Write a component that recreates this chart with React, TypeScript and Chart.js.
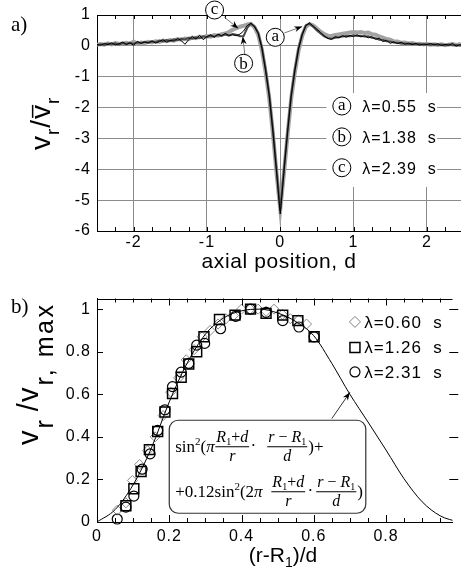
import React, { useEffect, useRef } from 'react';
import { Chart, registerables } from 'chart.js';

Chart.register(...registerables);

const SANS = "'Liberation Sans', Arial, Helvetica, sans-serif";
const SERIF = "'Liberation Serif', 'Times New Roman', Times, serif";

// ---------------- panel a) ----------------
const X_A = [
  -2.5, -2.45, -2.4, -2.35, -2.3, -2.25, -2.2, -2.15, -2.1, -2.05,
  -2, -1.95, -1.9, -1.85, -1.8, -1.75, -1.7, -1.65, -1.6, -1.55,
  -1.5, -1.45, -1.4, -1.35, -1.3, -1.25, -1.2, -1.15, -1.1, -1.05,
  -1, -0.95, -0.9, -0.85, -0.8, -0.75, -0.7, -0.65, -0.6, -0.55,
  -0.5, -0.45, -0.4, -0.35, -0.3, -0.25, -0.2, -0.15, -0.1, -0.05,
  0, 0.05, 0.1, 0.15, 0.2, 0.25, 0.3, 0.35, 0.4, 0.45,
  0.5, 0.55, 0.6, 0.65, 0.7, 0.75, 0.8, 0.85, 0.9, 0.95,
  1, 1.05, 1.1, 1.15, 1.2, 1.25, 1.3, 1.35, 1.4, 1.45,
  1.5, 1.55, 1.6, 1.65, 1.7, 1.75, 1.8, 1.85, 1.9, 1.95,
  2, 2.05, 2.1, 2.15, 2.2, 2.25, 2.3, 2.35, 2.4, 2.45,
  2.5,
];
// lambda = 0.55 s (thin black)
const Y_A_055 = [
  0.05, 0.02, 0.08, 0.04, 0.10, 0.03, 0.07, 0.12, 0.05, 0.09,
  0.02, 0.15, 0.08, 0.12, 0.10, 0.16, 0.09, 0.14, 0.20, 0.12,
  0.18, 0.15, 0.24, 0.17, 0.05, 0.20, 0.30, 0.22, 0.34, 0.20,
  0.30, 0.36, 0.28, 0.38, 0.33, 0.40, 0.34, 0.36, 0.33, 0.38,
  0.48, 0.66, 0.73, 0.62, 0.40, -0.08, -0.80, -1.62, -2.78, -4.10,
  -5.45, -4.10, -2.80, -1.62, -0.80, -0.10, 0.36, 0.66, 0.74, 0.64,
  0.54, 0.44, 0.32, 0.24, 0.21, 0.30, 0.26, 0.33, 0.28, 0.34,
  0.30, 0.36, 0.29, 0.33, 0.26, 0.30, 0.21, 0.25, 0.14, 0.18,
  0.08, 0.13, 0.07, 0.12, 0.05, 0.09, 0.04, 0.08, 0.02, 0.06,
  0.04, 0.08, 0.03, 0.07, 0.01, 0.05, 0.02, 0.08, -0.01, 0.04,
  -0.02,
];
// lambda = 1.38 s (dark grey)
const Y_A_138 = [
  0.02, 0.05, 0.03, 0.07, 0.05, 0.08, 0.04, 0.09, 0.06, 0.10,
  0.07, 0.11, 0.09, 0.13, 0.10, 0.14, 0.12, 0.17, 0.14, 0.19,
  0.16, 0.21, 0.18, 0.23, 0.21, 0.26, 0.23, 0.28, 0.25, 0.31,
  0.28, 0.33, 0.30, 0.35, 0.32, 0.37, 0.33, 0.38, 0.36, 0.31,
  0.32, 0.58, 0.72, 0.63, 0.42, -0.05, -0.75, -1.58, -2.72, -4.02,
  -5.35, -4.02, -2.75, -1.58, -0.75, -0.07, 0.38, 0.67, 0.72, 0.62,
  0.50, 0.40, 0.31, 0.25, 0.23, 0.26, 0.28, 0.30, 0.32, 0.31,
  0.34, 0.32, 0.33, 0.30, 0.31, 0.26, 0.25, 0.20, 0.19, 0.15,
  0.14, 0.11, 0.10, 0.08, 0.08, 0.06, 0.07, 0.05, 0.06, 0.04,
  0.05, 0.03, 0.05, 0.03, 0.04, 0.02, 0.04, 0.02, 0.03, 0.01,
  0.02,
];
// lambda = 2.39 s (thick light grey)
const Y_A_239 = [
  0.03, 0.06, 0.04, 0.08, 0.05, 0.09, 0.06, 0.08, 0.10, 0.07,
  0.14, 0.06, 0.11, 0.09, 0.13, 0.11, 0.15, 0.13, 0.17, 0.15,
  0.19, 0.17, 0.22, 0.20, 0.24, 0.22, 0.27, 0.25, 0.30, 0.28,
  0.32, 0.30, 0.35, 0.33, 0.38, 0.40, 0.45, 0.52, 0.57, 0.62,
  0.65, 0.69, 0.71, 0.60, 0.36, -0.14, -0.85, -1.70, -2.85, -4.15,
  -5.30, -4.15, -2.88, -1.70, -0.85, -0.15, 0.33, 0.62, 0.71, 0.66,
  0.56, 0.46, 0.38, 0.33, 0.32, 0.35, 0.37, 0.39, 0.41, 0.43,
  0.45, 0.43, 0.45, 0.42, 0.43, 0.38, 0.36, 0.31, 0.27, 0.22,
  0.20, 0.15, 0.14, 0.10, 0.11, 0.08, 0.09, 0.06, 0.07, 0.05,
  0.06, 0.04, 0.05, 0.03, 0.05, 0.02, 0.04, 0.06, 0.03, 0.05,
  0.02,
];
const X_TICKS_A = [-2, -1, 0, 1, 2];
const Y_TICKS_A = [-6, -5, -4, -3, -2, -1, 0, 1];
const LEGEND_A_TAGS = ['a', 'b', 'c'];
const LEGEND_A_TEXT = ['λ=0.55  s', 'λ=1.38  s', 'λ=2.39  s'];
const LEGEND_A_Y = [-1.95, -2.95, -3.95];

// ---------------- panel b) ----------------
const X_CURVE = [0, 0.05, 0.1, 0.15, 0.2, 0.25, 0.3, 0.35, 0.4, 0.45, 0.5, 0.55, 0.6, 0.65, 0.7, 0.75, 0.8, 0.85, 0.9, 0.95, 1];
const Y_CURVE = [0, 0.058, 0.175, 0.345, 0.564, 0.748, 0.882, 0.958, 0.992, 1.0, 0.982, 0.942, 0.875, 0.745, 0.60, 0.47, 0.338, 0.203, 0.095, 0.029, 0];

const X_DIAMOND = [0.056, 0.08, 0.098, 0.118, 0.14, 0.161, 0.183, 0.204, 0.226, 0.247, 0.269, 0.291, 0.313, 0.335, 0.357, 0.378, 0.40, 0.424, 0.446, 0.468, 0.49, 0.513, 0.535, 0.558, 0.58];
const Y_DIAMOND = [0.055, 0.09, 0.195, 0.27, 0.335, 0.40, 0.50, 0.61, 0.677, 0.762, 0.81, 0.87, 0.90, 0.93, 0.955, 0.97, 1.0, 1.0, 1.0, 0.99, 1.0, 0.975, 0.955, 0.95, 0.93];

const X_SQUARE = [0.080, 0.102, 0.122, 0.145, 0.168, 0.188, 0.209, 0.233, 0.254, 0.276, 0.296, 0.339, 0.382, 0.425, 0.468, 0.514, 0.556, 0.601];
const Y_SQUARE = [0.076, 0.156, 0.237, 0.34, 0.425, 0.517, 0.604, 0.68, 0.742, 0.80, 0.87, 0.951, 0.972, 1.0, 0.98, 0.972, 0.946, 0.87];

const X_CIRCLE = [0.056, 0.080, 0.102, 0.125, 0.147, 0.168, 0.188, 0.209, 0.233, 0.254, 0.276, 0.298, 0.342, 0.384, 0.425, 0.468, 0.514, 0.559, 0.601];
const Y_CIRCLE = [0.014, 0.07, 0.122, 0.248, 0.32, 0.43, 0.527, 0.636, 0.704, 0.745, 0.831, 0.839, 0.908, 0.966, 1.0, 0.985, 0.946, 0.916, 0.87];

const X_TICKS_B = [0, 0.2, 0.4, 0.6, 0.8];
const Y_TICKS_B = [0, 0.2, 0.4, 0.6, 0.8, 1];
const LEGEND_B_TEXT = ['λ=0.60  s', 'λ=1.26  s', 'λ=2.31  s'];
const LEGEND_B_Y = [0.94, 0.82, 0.705];

// ---------------- drawing helpers ----------------
type Seg = { t: string; it?: boolean; size?: number; dy?: number };

function drawSeq(ctx: CanvasRenderingContext2D, x: number, y: number, segs: Seg[], base: number) {
  for (const s of segs) {
    ctx.font = `${s.it ? 'italic ' : ''}${s.size || base}px ${SERIF}`;
    ctx.fillText(s.t, x, y + (s.dy || 0));
    x += ctx.measureText(s.t).width;
  }
  return x;
}
function seqW(ctx: CanvasRenderingContext2D, segs: Seg[], base: number) {
  let w = 0;
  for (const s of segs) {
    ctx.font = `${s.it ? 'italic ' : ''}${s.size || base}px ${SERIF}`;
    w += ctx.measureText(s.t).width;
  }
  return w;
}
function drawFrac(ctx: CanvasRenderingContext2D, cx: number, barY: number, num: Seg[], den: Seg[], base: number) {
  const wn = seqW(ctx, num, base);
  const wd = seqW(ctx, den, base);
  const w = Math.max(wn, wd) + 2;
  ctx.beginPath();
  ctx.moveTo(cx - w / 2, barY + 0.5);
  ctx.lineTo(cx + w / 2, barY + 0.5);
  ctx.lineWidth = 1;
  ctx.strokeStyle = '#000';
  ctx.stroke();
  drawSeq(ctx, cx - wn / 2, barY - 4, num, base);
  drawSeq(ctx, cx - wd / 2, barY + 15, den, base);
}
function circled(ctx: CanvasRenderingContext2D, cx: number, cy: number, letter: string) {
  ctx.beginPath();
  ctx.arc(cx, cy, 9, 0, Math.PI * 2);
  ctx.fillStyle = '#fff';
  ctx.fill();
  ctx.strokeStyle = '#000';
  ctx.lineWidth = 1;
  ctx.stroke();
  ctx.fillStyle = '#000';
  ctx.font = `17px ${SERIF}`;
  ctx.textAlign = 'center';
  ctx.textBaseline = 'alphabetic';
  ctx.fillText(letter, cx, cy + (letter === 'b' ? 5.5 : 4));
}
function arrow(ctx: CanvasRenderingContext2D, x1: number, y1: number, x2: number, y2: number, color: string) {
  ctx.strokeStyle = color;
  ctx.lineWidth = 1;
  ctx.beginPath();
  ctx.moveTo(x1, y1);
  ctx.lineTo(x2, y2);
  ctx.stroke();
  const a = Math.atan2(y2 - y1, x2 - x1);
  const L = 8, W = 3;
  ctx.fillStyle = '#000';
  ctx.beginPath();
  ctx.moveTo(x2, y2);
  ctx.lineTo(x2 - L * Math.cos(a) + W * Math.sin(a), y2 - L * Math.sin(a) - W * Math.cos(a));
  ctx.lineTo(x2 - L * 0.7 * Math.cos(a), y2 - L * 0.7 * Math.sin(a));
  ctx.lineTo(x2 - L * Math.cos(a) - W * Math.sin(a), y2 - L * Math.sin(a) + W * Math.cos(a));
  ctx.closePath();
  ctx.fill();
}
type RotPart = { t: string; size: number; dy?: number; over?: boolean; gap?: number; ls?: number };
function drawRotated(ctx: CanvasRenderingContext2D, x: number, y: number, parts: RotPart[]) {
  ctx.save();
  ctx.translate(x, y);
  ctx.rotate(-Math.PI / 2);
  ctx.textAlign = 'left';
  ctx.textBaseline = 'alphabetic';
  ctx.fillStyle = '#000';
  let cx = 0;
  for (const p of parts) {
    ctx.letterSpacing = `${p.ls ?? 1}px`;
    ctx.font = `${p.size}px ${SANS}`;
    ctx.fillText(p.t, cx, p.dy || 0);
    const w = ctx.measureText(p.t).width;
    if (p.over) {
      ctx.strokeStyle = '#000';
      ctx.lineWidth = 1.5;
      ctx.beginPath();
      ctx.moveTo(cx + 1, -p.size * 0.62);
      ctx.lineTo(cx + w - 1, -p.size * 0.62);
      ctx.stroke();
    }
    cx += w + (p.gap || 0);
  }
  ctx.restore();
}

const tickFont = { family: SANS, size: 16 };
const fmt = (v: any) => String(+Number(v).toFixed(2));

// ---------------- plugins ----------------
const panelAPlugin = {
  id: 'panelA',
  beforeDraw(chart: any) {
    chart.ctx.letterSpacing = '1px';
  },
  afterDraw(chart: any) {
    const { ctx, chartArea: ca } = chart;
    const xs = chart.scales.x;
    const ys = chart.scales.y;
    const px = (v: number) => xs.getPixelForValue(v);
    const py = (v: number) => ys.getPixelForValue(v);
    ctx.save();
    ctx.letterSpacing = '0px';
    ctx.strokeStyle = '#000';
    ctx.lineWidth = 1;
    ctx.beginPath();
    ctx.moveTo(ca.left, Math.round(ca.top) + 0.5);
    ctx.lineTo(ca.right, Math.round(ca.top) + 0.5);
    ctx.stroke();
    for (let i = 0; i <= 20; i++) {
      const v = -2.5 + i * 0.25;
      const x = Math.round(px(v)) + 0.5;
      if (x > ca.right) continue;
      ctx.beginPath();
      ctx.moveTo(x, ca.top);
      ctx.lineTo(x, ca.top + 4);
      ctx.moveTo(x, ca.bottom);
      ctx.lineTo(x, ca.bottom - 4);
      ctx.stroke();
    }
    const l = px(0.63), r = px(2.14), t = py(-1.53), b = py(-4.57);
    ctx.fillStyle = '#fff';
    ctx.fillRect(l, t, r - l, b - t);
    for (let i = 0; i < 3; i++) {
      const cy = py(LEGEND_A_Y[i]);
      circled(ctx, px(0.84), cy, LEGEND_A_TAGS[i]);
      ctx.fillStyle = '#000';
      ctx.font = `16px ${SANS}`;
      ctx.letterSpacing = '1px';
      ctx.textAlign = 'left';
      ctx.fillText(LEGEND_A_TEXT[i], px(1.12), cy + 5.8);
      ctx.letterSpacing = '0px';
    }
    arrow(ctx, px(-0.764), py(0.935), px(-0.573), py(0.563), '#777');
    circled(ctx, px(-0.896), py(1.162), 'c');
    arrow(ctx, px(-0.484), py(-0.264), px(-0.511), py(0.303), '#777');
    circled(ctx, px(-0.5), py(-0.565), 'b');
    arrow(ctx, px(0.055), py(0.417), px(0.30), py(0.627), '#777');
    circled(ctx, px(-0.068), py(0.277), 'a');
    ctx.fillStyle = '#000';
    ctx.font = `21px ${SANS}`;
    ctx.letterSpacing = '0.6px';
    ctx.textAlign = 'center';
    ctx.fillText('axial position, d', 279, 268);
    ctx.letterSpacing = '0px';
    drawRotated(ctx, 50, 150, [
      { t: 'v', size: 28 },
      { t: 'r', size: 19, dy: 9 },
      { t: '/', size: 28 },
      { t: 'v', size: 28, over: true },
      { t: 'r', size: 19, dy: 9 },
    ]);
    ctx.font = `21px ${SERIF}`;
    ctx.textAlign = 'left';
    ctx.fillText('a)', 11, 31);
    ctx.restore();
  },
};

const NUM1: Seg[] = [{ t: 'R', it: true }, { t: '1', size: 10, dy: 3 }, { t: '+' }, { t: 'd', it: true }];
const DEN_R: Seg[] = [{ t: 'r', it: true }];
const NUM2: Seg[] = [{ t: 'r', it: true }, { t: ' − ' }, { t: 'R', it: true }, { t: '1', size: 10, dy: 3 }];
const DEN_D: Seg[] = [{ t: 'd', it: true }];

const panelBPlugin = {
  id: 'panelB',
  beforeDraw(chart: any) {
    chart.ctx.letterSpacing = '1px';
  },
  afterDraw(chart: any) {
    const { ctx, chartArea: ca } = chart;
    const xs = chart.scales.x;
    const ys = chart.scales.y;
    const px = (v: number) => xs.getPixelForValue(v);
    const py = (v: number) => ys.getPixelForValue(v);
    ctx.save();
    ctx.letterSpacing = '0px';
    ctx.strokeStyle = '#000';
    ctx.lineWidth = 1;
    ctx.beginPath();
    ctx.moveTo(ca.left, Math.round(ca.top) + 0.5);
    ctx.lineTo(ca.right, Math.round(ca.top) + 0.5);
    ctx.stroke();
    for (let i = 0; i <= 20; i++) {
      const v = i * 0.05;
      const x = Math.round(px(v)) + 0.5;
      if (x > ca.right) continue;
      const len = i % 4 === 0 ? 7 : 4;
      ctx.beginPath();
      ctx.moveTo(x, ca.top);
      ctx.lineTo(x, ca.top + len);
      ctx.moveTo(x, ca.bottom);
      ctx.lineTo(x, ca.bottom - len);
      ctx.stroke();
    }
    for (const v of Y_TICKS_B) {
      if (v === 0) continue;
      const y = Math.round(py(v)) + 0.5;
      ctx.beginPath();
      ctx.moveTo(ca.left, y);
      ctx.lineTo(ca.left + 6, y);
      ctx.moveTo(px(1) - 9, y);
      ctx.lineTo(px(1), y);
      ctx.stroke();
    }
    for (let i = 0; i < 3; i++) {
      const cx = px(0.714);
      const cy = py(LEGEND_B_Y[i]);
      ctx.beginPath();
      if (i === 0) {
        ctx.moveTo(cx - 5.5, cy);
        ctx.lineTo(cx, cy - 5.5);
        ctx.lineTo(cx + 5.5, cy);
        ctx.lineTo(cx, cy + 5.5);
        ctx.closePath();
        ctx.strokeStyle = '#808080';
        ctx.lineWidth = 1;
      } else if (i === 1) {
        ctx.rect(cx - 5, cy - 5, 10, 10);
        ctx.strokeStyle = '#000';
        ctx.lineWidth = 1.5;
      } else {
        ctx.arc(cx, cy, 5, 0, Math.PI * 2);
        ctx.strokeStyle = '#000';
        ctx.lineWidth = 1.2;
      }
      ctx.stroke();
      ctx.fillStyle = '#000';
      ctx.font = `17px ${SANS}`;
      ctx.letterSpacing = '1px';
      ctx.textAlign = 'left';
      ctx.fillText(LEGEND_B_TEXT[i], px(0.74), cy + 6);
      ctx.letterSpacing = '0px';
    }
    arrow(ctx, px(0.65), py(0.486), px(0.70), py(0.609), '#333');
    const bl = px(0.2), bt = py(0.478), br = px(0.744), bb = py(0.041);
    const rr = 9;
    ctx.beginPath();
    ctx.moveTo(bl + rr, bt);
    ctx.arcTo(br, bt, br, bb, rr);
    ctx.arcTo(br, bb, bl, bb, rr);
    ctx.arcTo(bl, bb, bl, bt, rr);
    ctx.arcTo(bl, bt, br, bt, rr);
    ctx.closePath();
    ctx.fillStyle = '#fff';
    ctx.fill();
    ctx.strokeStyle = '#333';
    ctx.lineWidth = 1.2;
    ctx.stroke();
    ctx.fillStyle = '#000';
    ctx.textAlign = 'left';
    ctx.textBaseline = 'alphabetic';
    const sup: Seg = { t: '2', size: 11, dy: -7 };
    // line 1
    drawSeq(ctx, bl + 6, bt + 32, [{ t: 'sin' }, sup, { t: '(' }, { t: 'π', it: true }], 17);
    drawFrac(ctx, bl + 63, bt + 26, NUM1, DEN_R, 16);
    ctx.font = `17px ${SERIF}`;
    ctx.textAlign = 'center';
    ctx.fillText('·', bl + 84, bt + 31);
    ctx.textAlign = 'left';
    drawFrac(ctx, bl + 118, bt + 26, NUM2, DEN_D, 16);
    drawSeq(ctx, bl + 139, bt + 32, [{ t: ')+' }], 17);
    // line 2
    drawSeq(ctx, bl + 6, bt + 77, [{ t: '+0.12' }, { t: 'sin' }, sup, { t: '(2' }, { t: 'π', it: true }], 17);
    drawFrac(ctx, bl + 119, bt + 71, NUM1, DEN_R, 16);
    ctx.font = `17px ${SERIF}`;
    ctx.textAlign = 'center';
    ctx.fillText('·', bl + 141, bt + 76);
    ctx.textAlign = 'left';
    drawFrac(ctx, bl + 167, bt + 71, NUM2, DEN_D, 16);
    drawSeq(ctx, bl + 188, bt + 77, [{ t: ')' }], 17);
    // axis titles
    ctx.fillStyle = '#000';
    ctx.textAlign = 'left';
    const t1 = '(r-R';
    const t2 = ')/d';
    ctx.font = `21px ${SANS}`;
    const w1 = ctx.measureText(t1).width;
    const w3 = ctx.measureText(t2).width;
    ctx.font = `14px ${SANS}`;
    const w2 = ctx.measureText('1').width;
    let x0 = 283 - (w1 + w2 + w3) / 2;
    ctx.font = `21px ${SANS}`;
    ctx.fillText(t1, x0, 272);
    x0 += w1;
    ctx.font = `14px ${SANS}`;
    ctx.fillText('1', x0, 277);
    x0 += w2;
    ctx.font = `21px ${SANS}`;
    ctx.fillText(t2, x0, 272);
    drawRotated(ctx, 38, 155, [
      { t: 'v', size: 29, ls: 2 },
      { t: 'r', size: 25, dy: 15, gap: 8 },
      { t: '/', size: 29 },
      { t: 'v', size: 29, ls: 2 },
      { t: 'r, max', size: 25, dy: 15, ls: 2.5 },
    ]);
    ctx.font = `21px ${SERIF}`;
    ctx.textAlign = 'left';
    ctx.fillText('b)', 11, 23);
    ctx.restore();
  },
};

function pts(xs: number[], ys: number[]) {
  return xs.map((x, i) => ({ x, y: ys[i] }));
}

export default function App() {
  const refA = useRef<HTMLCanvasElement>(null);
  const refB = useRef<HTMLCanvasElement>(null);

  useEffect(() => {
    const chartA = new Chart(refA.current as HTMLCanvasElement, {
      type: 'line',
      data: {
        datasets: [
          { data: pts(X_A, Y_A_055), borderColor: '#000', borderWidth: 1, pointRadius: 0, tension: 0 },
          { data: pts(X_A, Y_A_138), borderColor: '#4a4a4a', borderWidth: 2, pointRadius: 0, tension: 0 },
          { data: pts(X_A, Y_A_239), borderColor: '#a3a3a3', borderWidth: 4, pointRadius: 0, tension: 0 },
        ],
      },
      options: {
        animation: false,
        responsive: false,
        devicePixelRatio: 1,
        events: [],
        layout: { padding: { top: 15, left: 0, right: 0, bottom: 0 } },
        plugins: { legend: { display: false }, tooltip: { enabled: false } },
        scales: {
          x: {
            type: 'linear',
            min: -2.5,
            max: 2.466,
            afterBuildTicks: (s: any) => { s.ticks = X_TICKS_A.map((v) => ({ value: v })); },
            afterFit: (s: any) => { s.height = 59; s.paddingLeft = 0; s.paddingRight = 0; },
            grid: { color: '#8c8c8c', lineWidth: 1, drawTicks: false },
            border: { color: '#000', width: 1 },
            ticks: { color: '#000', font: tickFont, padding: 2, maxRotation: 0, autoSkip: false, callback: fmt },
          },
          y: {
            type: 'linear',
            min: -6,
            max: 1,
            afterBuildTicks: (s: any) => { s.ticks = Y_TICKS_A.map((v) => ({ value: v })); },
            afterFit: (s: any) => { s.width = 97; s.paddingTop = 0; s.paddingBottom = 0; },
            grid: { color: '#8c8c8c', lineWidth: 1, drawTicks: false },
            border: { color: '#000', width: 1 },
            ticks: { color: '#000', font: tickFont, padding: 6, autoSkip: false, callback: fmt },
          },
        },
      } as any,
      plugins: [panelAPlugin],
    });

    const chartB = new Chart(refB.current as HTMLCanvasElement, {
      type: 'scatter',
      data: {
        datasets: [
          { data: pts(X_CURVE, Y_CURVE), showLine: true, borderColor: '#000', borderWidth: 1, pointRadius: 0, cubicInterpolationMode: 'monotone' },
          { data: pts(X_CIRCLE, Y_CIRCLE), pointStyle: 'circle', pointRadius: 5, borderColor: '#000', borderWidth: 1.2, backgroundColor: 'rgba(0,0,0,0)', clip: false },
          { data: pts(X_SQUARE, Y_SQUARE), pointStyle: 'rect', pointRadius: 7, borderColor: '#000', borderWidth: 1.5, backgroundColor: 'rgba(0,0,0,0)', clip: false },
          { data: pts(X_DIAMOND, Y_DIAMOND), pointStyle: 'rectRot', pointRadius: 5, borderColor: '#8a8a8a', borderWidth: 1, backgroundColor: 'rgba(0,0,0,0)', clip: false },
        ],
      },
      options: {
        animation: false,
        responsive: false,
        devicePixelRatio: 1,
        events: [],
        layout: { padding: { top: 4, left: 0, right: 0, bottom: 0 } },
        plugins: { legend: { display: false }, tooltip: { enabled: false } },
        scales: {
          x: {
            type: 'linear',
            min: 0,
            max: 0.984,
            afterBuildTicks: (s: any) => { s.ticks = X_TICKS_B.map((v) => ({ value: v })); },
            afterFit: (s: any) => { s.height = 54; s.paddingLeft = 0; s.paddingRight = 0; },
            grid: { display: false, drawTicks: false },
            border: { color: '#000', width: 1 },
            ticks: { color: '#000', font: tickFont, padding: 5, maxRotation: 0, autoSkip: false, callback: fmt },
          },
          y: {
            type: 'linear',
            min: 0,
            max: 1.05,
            afterBuildTicks: (s: any) => { s.ticks = Y_TICKS_B.map((v) => ({ value: v })); },
            afterFit: (s: any) => { s.width = 97; s.paddingTop = 0; s.paddingBottom = 0; },
            grid: { display: false, drawTicks: false },
            border: { color: '#000', width: 1 },
            ticks: { color: '#000', font: tickFont, padding: 6, autoSkip: false, callback: fmt },
          },
        },
      } as any,
      plugins: [panelBPlugin],
    });

    return () => {
      chartA.destroy();
      chartB.destroy();
    };
  }, []);

  return (
    <div style={{ position: 'absolute', left: 0, top: 0, width: 461, height: 576, background: '#fff', overflow: 'hidden' }}>
      <canvas ref={refA} width={461} height={290} style={{ display: 'block', width: 461, height: 290 }} />
      <canvas ref={refB} width={461} height={286} style={{ display: 'block', width: 461, height: 286 }} />
    </div>
  );
}
